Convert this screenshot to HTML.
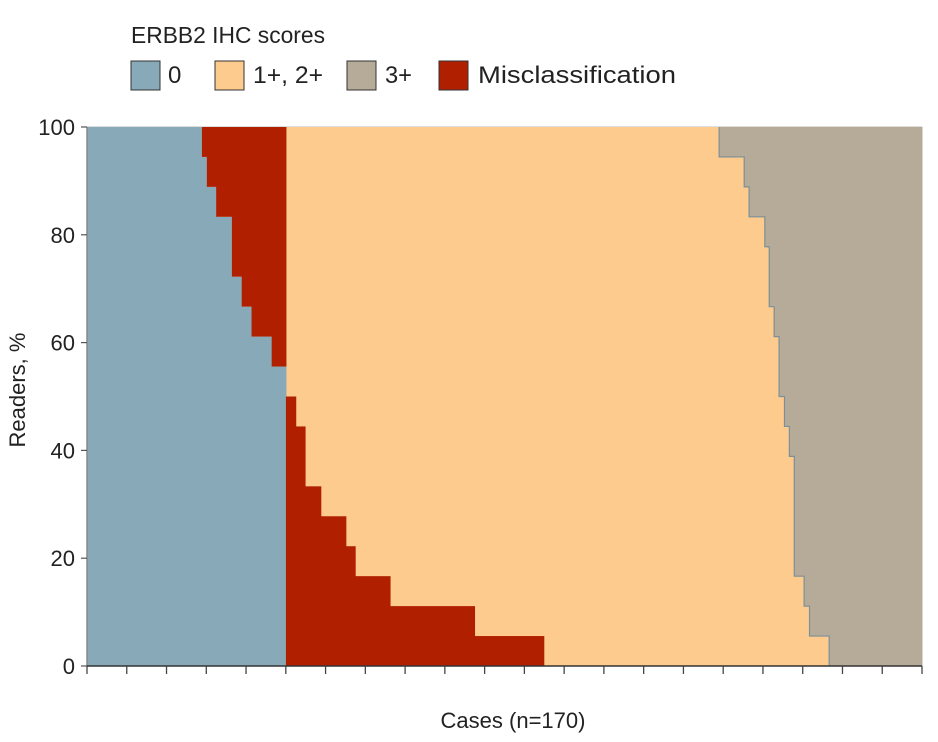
<!DOCTYPE html>
<html><head><meta charset="utf-8"><style>
body{margin:0;background:#fff;}
svg{display:block;font-family:"Liberation Sans",sans-serif;}
</style></head><body>
<svg id="chart" width="938" height="742" viewBox="0 0 938 742">
<g>
<text x="131" y="43" font-size="23" fill="#222" textLength="194" lengthAdjust="spacingAndGlyphs">ERBB2 IHC scores</text>
<rect x="131" y="61" width="29" height="29" fill="#88aab8" stroke="#333"/>
<text x="168" y="83" font-size="24" fill="#222">0</text>
<rect x="215" y="61" width="29" height="29" fill="#fccb8d" stroke="#333"/>
<text x="253" y="83" font-size="24" fill="#222" textLength="70" lengthAdjust="spacingAndGlyphs">1+, 2+</text>
<rect x="347" y="61" width="29" height="29" fill="#b6ab98" stroke="#333"/>
<text x="385" y="83" font-size="24" fill="#222" textLength="27" lengthAdjust="spacingAndGlyphs">3+</text>
<rect x="439" y="61" width="29" height="29" fill="#b01f00" stroke="#333"/>
<text x="478" y="83" font-size="24" fill="#222" textLength="198" lengthAdjust="spacingAndGlyphs">Misclassification</text>
</g>
<g id="plot"></g>
<text x="513" y="728" font-size="22" fill="#222" text-anchor="middle">Cases (n=170)</text>
<text transform="translate(25,390) rotate(-90)" font-size="22" fill="#222" text-anchor="middle">Readers, %</text>
</svg>
<script>
const totalCases = 170;
const totalReaders = 18;
const zeroEnds = [23.4,24.4,26.3,29.5,31.5,33.5,37.6,40.5];
const zeroBlueReaders = [18,17,16,15,13,12,11,10];
const lowEnds = [42.5,44.4,47.6,52.7,54.6,61.7,78.9,93.0,170];
const lowMisReaders = [9,8,6,5,4,3,2,1,0];
const grayEnds = [128.7,133.8,134.8,138.0,138.9,139.9,140.9,142.0,143.0,144.0,146.0,147.1,151.1,170];
const grayReaders = [0,1,2,3,4,6,7,9,10,11,15,16,17,18];
const yTicks = [0,20,40,60,80,100];
const xTickCount = 22;

const X0=87,X1=922,Y0=666,Y1=127;
const sx=c=>X0+(X1-X0)*c/totalCases;
const sy=p=>Y0-(Y0-Y1)*p/100;
const rp=r=>r/totalReaders*100;
const NS="http://www.w3.org/2000/svg";
const g=document.getElementById('plot');
function mk(tag,attrs){const e=document.createElementNS(NS,tag);for(const k in attrs)e.setAttribute(k,attrs[k]);g.appendChild(e);return e;}
function rect(c0,c1,p0,p1,fill){return mk('rect',{x:sx(c0),y:sy(p1),width:Math.max(0,sx(c1)-sx(c0)+0.5),height:Math.max(0,sy(p0)-sy(p1)),fill:fill});}

let bg=rect(zeroEnds[zeroEnds.length-1],totalCases,0,100,'#fccb8d');



let prev=0;
zeroEnds.forEach((e,i)=>{
  let b=rect(prev,e,0,rp(zeroBlueReaders[i]),'#88aab8');
  
  
  let r=rect(prev,e,rp(zeroBlueReaders[i]),100,'#b01f00');
  
  
  prev=e;
});
prev=zeroEnds[zeroEnds.length-1];
lowEnds.forEach((e,i)=>{
  if(lowMisReaders[i]>0){
    let r=rect(prev,e,0,rp(lowMisReaders[i]),'#b01f00');
    
    
  }
  prev=e;
});
prev=zeroEnds[zeroEnds.length-1];
let gp=[];
grayEnds.forEach((e,i)=>{
  const lv=sy(100-rp(grayReaders[i]));
  if(grayReaders[i]>0){
    let r=rect(prev,e,100-rp(grayReaders[i]),100,'#b6ab98');
    
    
  }
  if(grayReaders[i]===0){ gp.push([sx(e),lv]); }
  else if(grayReaders[i]===totalReaders){ gp.push([sx(prev),lv]); }
  else { gp.push([sx(prev),lv],[sx(e),lv]); }
  prev=e;
});
let gl=mk('polyline',{points:gp.map(p=>p.join(',')).join(' '),fill:'none',stroke:'#7d9099','stroke-width':1.2});


mk('line',{x1:X0,x2:X1,y1:Y1-0.5,y2:Y1-0.5,stroke:'#ddd','stroke-width':1});
let ya=mk('line',{x1:X0,x2:X0,y1:Y1,y2:Y0,stroke:'#888','stroke-width':1.5});


let xa=mk('line',{x1:X0,x2:X1,y1:Y0,y2:Y0,stroke:'#333','stroke-width':1.5});


yTicks.forEach(t=>{
  mk('line',{x1:X0-6,x2:X0,y1:sy(t),y2:sy(t),stroke:'#555','stroke-width':1.2});
  let tx=mk('text',{x:X0-12,y:sy(t)+8,'font-size':22,fill:'#222','text-anchor':'end'});
  tx.textContent=t;
  
  
});
for(let i=0;i<xTickCount;i++){
  const x=X0+(X1-X0)*i/(xTickCount-1);
  let t=mk('line',{x1:x,x2:x,y1:Y0,y2:Y0+8,stroke:'#444','stroke-width':1.3});
  
  
}
</script>
</body></html>
